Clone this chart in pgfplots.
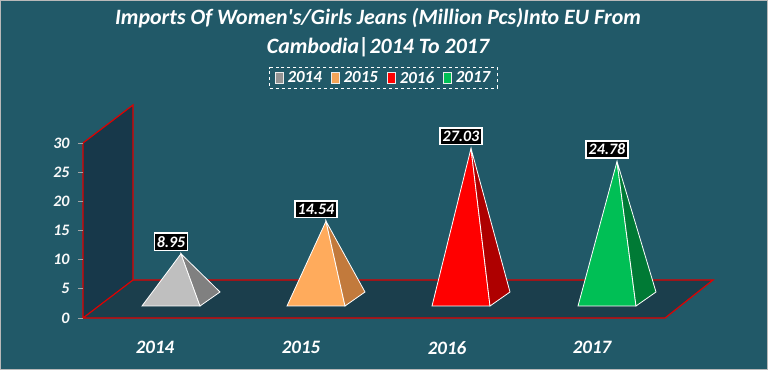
\documentclass[border=0pt]{standalone}
\usepackage{fontspec}
\setmainfont{Carlito}
\usepackage{pgfplots}
\pgfplotsset{compat=1.18}
\definecolor{bg}{HTML}{215968}
\definecolor{wallc}{HTML}{17384A}
\definecolor{floorc}{HTML}{1B3E4C}
\definecolor{redline}{HTML}{E00000}
\definecolor{f14}{HTML}{BFBFBF}
\definecolor{s14}{HTML}{808080}
\definecolor{f15}{HTML}{FFAB5C}
\definecolor{s15}{HTML}{C27A3C}
\definecolor{f16}{HTML}{FF0000}
\definecolor{s16}{HTML}{AE0000}
\definecolor{f17}{HTML}{00BF55}
\definecolor{s17}{HTML}{007A35}
\begin{document}
\begin{tikzpicture}
\fill[bg] (-83bp,-52bp) rectangle (685bp,318bp);
\draw[gray!55, line width=1.2bp] (-82.4bp,-51.4bp) rectangle (684.4bp,317.4bp);
\fill[wallc] (0bp,0bp) -- (0bp,175bp) -- (50bp,213bp) -- (50bp,38bp) -- cycle;
\fill[floorc] (0bp,0bp) -- (582bp,0bp) -- (630bp,38bp) -- (50bp,38bp) -- cycle;
\draw[redline, line width=1.2bp] (50bp,38bp) -- (630bp,38bp) -- (582bp,0bp) -- (0bp,0bp) -- (50bp,38bp) -- (50bp,213bp) -- (0bp,175bp) -- (0bp,0bp);
\begin{axis}[
  scale only axis, width=582bp, height=175bp,
  xmin=83, xmax=665, ymin=0, ymax=30,
  clip=false,
  axis line style={draw=none},
  ytick={0,5,...,30},
  ytick pos=left,
  tick align=outside,
  y tick style={draw=gray!70, line width=0.8bp},
  major tick length=5bp,
  xtick={155,301,447,592},
  xticklabels={2014,2015,2016,2017},
  x tick style={draw=none},
  xtick pos=bottom,
  /pgf/number format/assume math mode=true,
  xticklabel style={font=\bfseries\itshape\fontsize{19}{21}\selectfont, text=white, yshift=-15bp},
  yticklabel style={font=\bfseries\itshape\fontsize{16}{18}\selectfont, text=white!95!gray, xshift=-5bp},
  legend style={at={(0.5163,1.3714)}, anchor=center, draw=white, dashed, line width=1bp, fill=none, text=white,
    font=\bfseries\itshape\fontsize{17}{20}\selectfont, legend columns=4,
    /tikz/every odd column/.append style={column sep=2bp},
    /tikz/every even column/.append style={column sep=7bp}, inner ysep=1.5bp, inner xsep=5bp},
  legend image code/.code={\draw[#1, solid, draw=white!85!gray, line width=0.8bp] (0bp,-5bp) rectangle (8bp,6bp);},
]
\addlegendimage{fill=s14!70!f14}\addlegendentry{2014}
\addlegendimage{fill=f15!85!s15}\addlegendentry{2015}
\addlegendimage{fill=f16}\addlegendentry{2016}
\addlegendimage{fill=f17}\addlegendentry{2017}
% 2014
\addplot[forget plot, fill=f14, draw=white, line width=0.8bp, yshift=12bp] coordinates {(142,0) (200,0) (181,8.95)} -- cycle;
\addplot[forget plot, fill=s14, draw=white, line width=0.8bp, yshift=12bp] coordinates {(200,0) (220,2.4) (181,8.95)} -- cycle;
% 2015
\addplot[forget plot, fill=f15, draw=white, line width=0.8bp, yshift=12bp] coordinates {(287,0) (345,0) (326,14.54)} -- cycle;
\addplot[forget plot, fill=s15, draw=white, line width=0.8bp, yshift=12bp] coordinates {(345,0) (365,2.4) (326,14.54)} -- cycle;
% 2016
\addplot[forget plot, fill=f16, draw=white, line width=0.8bp, yshift=12bp] coordinates {(432,0) (490,0) (471,27.03)} -- cycle;
\addplot[forget plot, fill=s16, draw=white, line width=0.8bp, yshift=12bp] coordinates {(490,0) (510,2.4) (471,27.03)} -- cycle;
% 2017
\addplot[forget plot, fill=f17, draw=white, line width=0.8bp, yshift=12bp] coordinates {(578,0) (636,0) (617,24.78)} -- cycle;
\addplot[forget plot, fill=s17, draw=white, line width=0.8bp, yshift=12bp] coordinates {(636,0) (656,2.4) (617,24.78)} -- cycle;
% labels
\addplot[forget plot, draw=none, mark=none,
  nodes near coords={\pgfmathprintnumber[fixed,fixed zerofill,precision=2]{\pgfplotspointmeta}},
  every node near coord/.append style={anchor=center, yshift=24bp, fill=black, draw=white, line width=1.5bp, text=white,
    font=\bfseries\itshape\fontsize{16}{18}\selectfont, inner xsep=2.5bp, inner ysep=3bp}]
  coordinates {(171,8.95) (316,14.54) (461,27.03) (607,24.78)};
\end{axis}
\node[text=white, font=\bfseries\itshape\fontsize{22}{24}\selectfont] at (295bp,300bp) {Imports Of Women\textquotesingle s/Girls Jeans (Million Pcs)Into EU From};
\node[text=white, font=\bfseries\itshape\fontsize{22}{24}\selectfont] at (295bp,271bp) {Cambodia|2014 To 2017};
\end{tikzpicture}
\end{document}
